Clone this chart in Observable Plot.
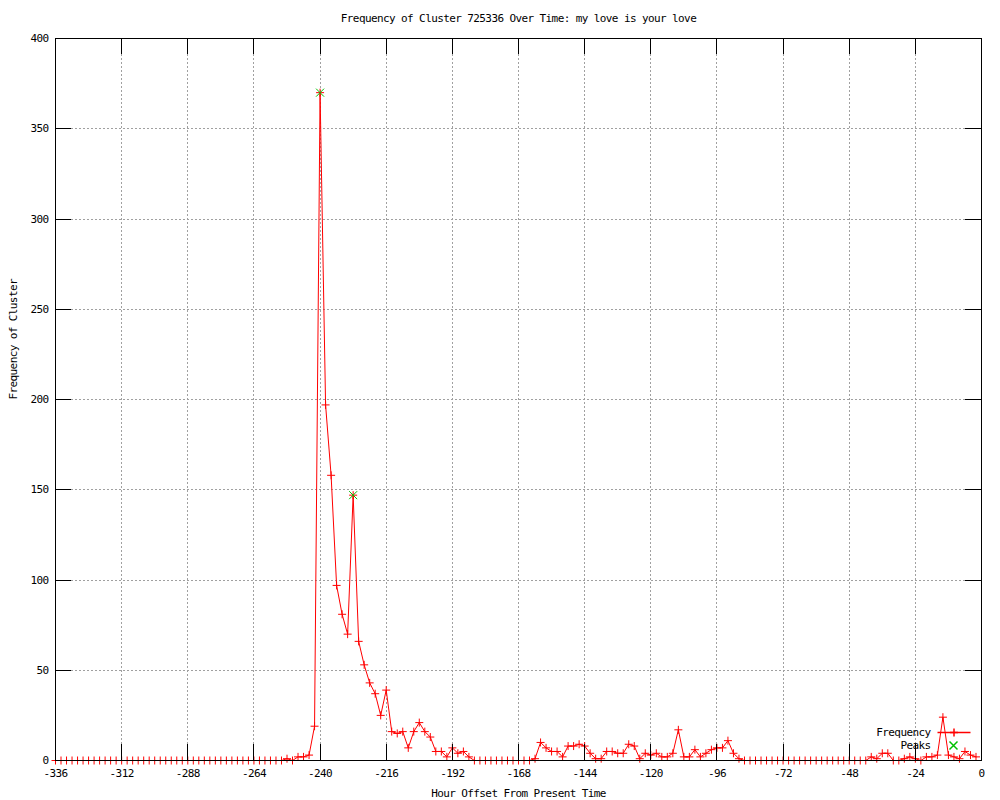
<!DOCTYPE html>
<html><head><meta charset="utf-8">
<script src="https://cdn.jsdelivr.net/npm/d3@7"></script>
<script src="https://cdn.jsdelivr.net/npm/@observablehq/plot@0.6"></script>
<style>
html,body{margin:0;padding:0;background:#fff;}
#chart svg{display:block;}
#chart svg text{letter-spacing:-0.6px;}
</style></head><body><div id="chart"></div>
<script>
const title = "Frequency of Cluster 725336 Over Time: my love is your love";
const xLabel = "Hour Offset From Present Time";
const yLabel = "Frequency of Cluster";
const xTicks = [-336,-312,-288,-264,-240,-216,-192,-168,-144,-120,-96,-72,-48,-24,0];
const yTicks = [0,50,100,150,200,250,300,350,400];
const legendLabels = ["Frequency","Peaks"];

// hours every 2 hours from -336 to -2
const hours = d3.range(-336, 0, 2);
const freq = [
  0,0,0,0,0,0,0,0,0,0, 0,0,0,0,0,0,0,0,0,0, 0,0,0,0,0,0,0,0,0,0, 0,0,0,0,0,0,0,0,0,0, 0,0,
  1,0,2,2,3,19,370,197,158,97,81,70,147,66,53,43,37,25,39,16,15,16,7,16,21,16,13,5,5,2,7,4,5,2,0,
  0,0,0,0,0,0,0,0,0,0,
  1,10,7,5,5,2,8,8,9,8,4,1,1,5,5,4,4,9,8,1,4,3,4,2,2,4,17,2,2,6,2,4,6,7,7,11,4,1,0,
  0,0,0,0,0,0,0,0,0,0,0,0,0,0,0,0,0,0,0,0,0,0,
  2,1,4,4,0,0,1,2,1,0,2,2,3,24,3,2,1,5,3,2
];
const peakHours = [-240, -228];
const peakValues = [370, 147];

const data = hours.map((h, i) => ({hour: h, freq: freq[i]}));
const peaks = peakHours.map((h, i) => ({hour: h, freq: peakValues[i]}));

const rad = s => Math.sqrt(s / Math.PI);
const plusSymbol = {draw(ctx, size){const r = rad(size); ctx.moveTo(-r,0); ctx.lineTo(r,0); ctx.moveTo(0,-r); ctx.lineTo(0,r);}};
const crossSymbol = {draw(ctx, size){const r = rad(size); ctx.moveTo(-r,-r); ctx.lineTo(r,r); ctx.moveTo(-r,r); ctx.lineTo(r,-r);}};
const hlineSymbol = {draw(ctx, size){const r = rad(size); ctx.moveTo(-r,0); ctx.lineTo(r,0);}};

const W = 1000, H = 800, mL = 55, mR = 19, mT = 38, mB = 40;
const fw = W - mL - mR, fh = H - mT - mB, tk = 16;
const red = "#ff0000", green = "#00c000";
const gridStyle = {stroke: "#a0a0a0", strokeOpacity: 1, strokeDasharray: "2,2", shapeRendering: "crispEdges"};

const chart = Plot.plot({
  width: W, height: H,
  marginLeft: mL, marginRight: mR, marginTop: mT, marginBottom: mB,
  style: {fontFamily: "'DejaVu Sans Mono', monospace", fontSize: "11px", background: "white", color: "black"},
  x: {domain: [-336, 0]},
  y: {domain: [0, 400]},
  marks: [
    Plot.gridX(xTicks, gridStyle),
    Plot.gridY(yTicks, gridStyle),
    Plot.axisX({ticks: xTicks, tickSize: 0, tickPadding: 9, label: null, tickFormat: d => String(d)}),
    Plot.axisY({ticks: yTicks, tickSize: 0, tickPadding: 7, label: null, tickFormat: d => String(d)}),
    Plot.line(data, {x: "hour", y: "freq", stroke: red, strokeWidth: 1}),
    Plot.dot(data, {x: "hour", y: "freq", symbol: plusSymbol, r: 4, stroke: red, fill: "none", strokeWidth: 1}),
    Plot.dot(peaks, {x: "hour", y: "freq", symbol: crossSymbol, r: 4, stroke: green, fill: "none", strokeWidth: 1}),
    Plot.frame({stroke: "black", shapeRendering: "crispEdges"}),
    Plot.ruleX(xTicks, {insetTop: fh - tk, stroke: "black", shapeRendering: "crispEdges"}),
    Plot.ruleX(xTicks, {insetBottom: fh - tk, stroke: "black", shapeRendering: "crispEdges"}),
    Plot.ruleY(yTicks, {insetRight: fw - tk, stroke: "black", shapeRendering: "crispEdges"}),
    Plot.ruleY(yTicks, {insetLeft: fw - tk, stroke: "black", shapeRendering: "crispEdges"}),
    Plot.text([title], {text: d => d, frameAnchor: "top", lineAnchor: "middle", dy: -20, fill: "black"}),
    Plot.text([xLabel], {text: d => d, frameAnchor: "bottom", lineAnchor: "middle", dy: 33, fill: "black"}),
    Plot.text([yLabel], {text: d => d, frameAnchor: "left", lineAnchor: "middle", dx: -42, rotate: -90, fill: "black"}),
    // legend
    Plot.text([legendLabels[0]], {text: d => d, frameAnchor: "bottom-right", lineAnchor: "middle", dx: -51, dy: -28, textAnchor: "end", fill: "black"}),
    Plot.text([legendLabels[1]], {text: d => d, frameAnchor: "bottom-right", lineAnchor: "middle", dx: -51, dy: -15, textAnchor: "end", fill: "black"}),
    Plot.dot([legendLabels[0]], {frameAnchor: "bottom-right", dx: -27.5, dy: -28, symbol: hlineSymbol, r: 16.5, stroke: red, fill: "none"}),
    Plot.dot([legendLabels[0]], {frameAnchor: "bottom-right", dx: -27.5, dy: -28, symbol: plusSymbol, r: 4, stroke: red, fill: "none"}),
    Plot.dot([legendLabels[1]], {frameAnchor: "bottom-right", dx: -28, dy: -15, symbol: crossSymbol, r: 4, stroke: green, fill: "none"})
  ]
});
document.getElementById("chart").appendChild(chart);
</script>
</body></html>
